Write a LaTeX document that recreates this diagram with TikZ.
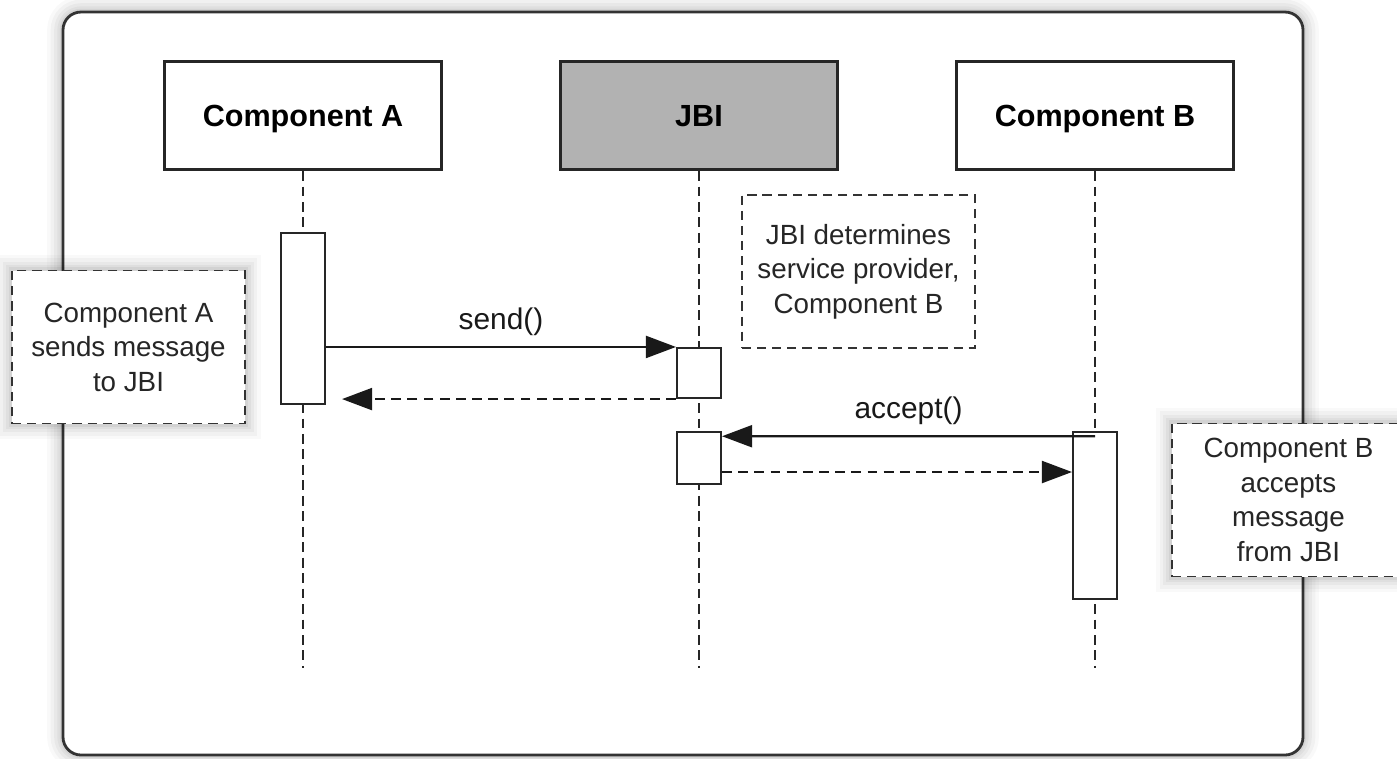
\documentclass[tikz,border=0pt]{standalone}
\usepackage{fontspec}
\setmainfont{Liberation Sans}
\usetikzlibrary{arrows.meta}

\tikzset{
  soft/.style={preaction={draw=black, solid, opacity=.025, line width=9pt},
               preaction={draw=black, solid, opacity=.03, line width=7pt},
               preaction={draw=black, solid, opacity=.035, line width=5pt},
               preaction={draw=black, solid, opacity=.04, line width=3.2pt},
               preaction={draw=black, solid, opacity=.05, line width=1.8pt}},
  head/.style={draw=black!85, line width=0.9pt, minimum width=2.77cm, minimum height=1.08cm,
               text height=6.3pt, text depth=0pt,
               font=\fontsize{8.7}{10}\selectfont\bfseries},
  act/.style={draw=black!85, fill=white, line width=0.6pt, minimum width=0.44cm, inner sep=0pt},
  life/.style={black!85, line width=0.4pt, dash pattern=on 2.8pt off 1.6pt},
  msg/.style={black!90, line width=0.6pt, -{Triangle[length=0.3cm,width=0.22cm]}},
  ret/.style={msg, dash pattern=on 2.8pt off 1.8pt},
  lbl/.style={text=black!90, font=\fontsize{8.5}{10}\selectfont, inner sep=3pt},
  note/.style={draw=black!80, fill=white, line width=0.55pt, dash pattern=on 2.6pt off 1.7pt,
               minimum width=2.33cm, minimum height=1.53cm, align=center, text=black!85,
               font=\fontsize{7.9}{9.8}\selectfont},
}

\begin{document}
\begin{tikzpicture}[]

\useasboundingbox (0,0) rectangle (13.97,-7.58);

% frame
\draw[soft, draw=black!80, fill=white, line width=0.8pt, rounded corners=0.18cm] (0.63,-0.12) rectangle (13.03,-7.55);

% heads
\node[head] (compA) at (3.03,-1.155) {Component A};
\node[head, fill=black!30] (jbi) at (6.99,-1.155) {JBI};
\node[head] (compB) at (10.95,-1.155) {Component B};

% lifelines
\coordinate (endA) at (3.03,-6.68);
\coordinate (endJ) at (6.99,-6.68);
\coordinate (endB) at (10.95,-6.68);
\draw[life] (compA) -- (endA);
\draw[life] (jbi) -- (endJ);
\draw[life] (compB) -- (endB);

% activations
\node[act, minimum height=1.71cm] (actA) at (3.03,-3.185) {};
\node[act, minimum height=0.5cm] (actJ1) at (6.99,-3.73) {};
\node[act, minimum height=0.52cm] (actJ2) at (6.99,-4.58) {};
\node[act, minimum height=1.67cm] (actB) at (10.95,-5.155) {};

% messages
\draw[msg] (actA.east |- actJ1.north) -- node[above, lbl] {send()} (actJ1.north west);
\draw[ret, shorten >=0.16cm] (actJ1.south west) -- (actJ1.south west -| actA.east);
\draw[msg] ([yshift=-1.5pt]actB.north) -- node[above, lbl] {accept()} ([yshift=-1.5pt]actJ2.north east);
\draw[ret] (actJ2.east |- 0,-4.72) -- (actB.west |- 0,-4.72);

% notes
\node[note, soft] (noteA) at (1.285,-3.47) {Component A\\sends message\\to JBI};
\node[note] (noteJ) at (8.585,-2.715) {JBI determines\\service provider,\\Component B};
\node[note, soft] (noteB) at (12.885,-5.0) {Component B\\accepts\\message\\from JBI};

\end{tikzpicture}
\end{document}
